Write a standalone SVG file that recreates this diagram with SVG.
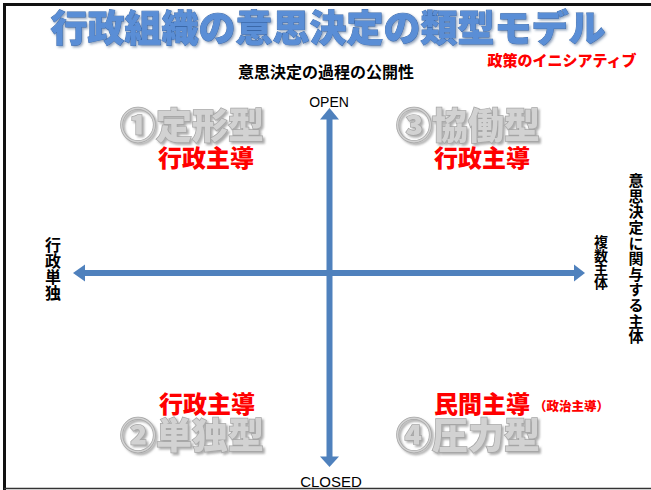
<svg xmlns="http://www.w3.org/2000/svg" width="651" height="490" viewBox="0 0 651 490">
<defs>
<style>
.jp{font-family:"Noto Sans CJK JP","Noto Sans CJK SC",sans-serif;}
.title{font-size:37px;font-weight:900;fill:#5A8ED6;stroke:#3A68A8;stroke-width:0.8;paint-order:stroke;}
.red{fill:#FF0000;font-weight:900;}
.grey{font-size:36px;font-weight:900;fill:#D2D2D2;stroke:#A5A5A5;stroke-width:1.4;paint-order:stroke;}
.blk{fill:#000;font-weight:700;}
.vert{writing-mode:vertical-rl;}
.lat{font-family:"Liberation Sans",Arial,sans-serif;fill:#000;}
.axis{stroke:#4F81BD;stroke-width:6;fill:none;}
</style>
<filter id="sh" x="-10%" y="-20%" width="130%" height="150%">
<feDropShadow dx="2" dy="2" stdDeviation="1" flood-color="#777" flood-opacity="0.6"/>
</filter>
<filter id="tsh" x="-5%" y="-20%" width="110%" height="150%">
<feDropShadow dx="1.5" dy="1.5" stdDeviation="1" flood-color="#2a4a7a" flood-opacity="0.5"/>
</filter>
</defs>
<rect width="651" height="490" fill="#fff"/>
<path d="M4.5 490 V4.5 H651" fill="none" stroke="#111" stroke-width="3"/>
<line x1="4" y1="488.5" x2="651" y2="488.5" stroke="#333" stroke-width="1.5"/>

<g id="title"><text class="jp title" x="328" y="42" text-anchor="middle" filter="url(#tsh)">行政組織の意思決定の類型モデル</text></g>
<g id="initiative"><text class="jp red" x="562" y="66" font-size="15" text-anchor="middle">政策のイニシアティブ</text></g>
<g id="axis-v-label"><text class="jp blk" x="326" y="78" font-size="16" text-anchor="middle">意思決定の過程の公開性</text></g>
<g id="axis-h-label"><text class="jp blk vert" x="636" y="173" font-size="15" letter-spacing="0.6">意思決定に関与する主体</text></g>

<g id="connectors">
<path class="axis" d="M329.5 119 V457"/>
<polygon points="329.5,108 339,119.5 320,119.5" fill="#4F81BD"/>
<polygon points="329.5,467 339,456.5 320,456.5" fill="#4F81BD"/>
<path class="axis" d="M85 273 H575"/>
<polygon points="73,273 85,264.5 85,281.5" fill="#4F81BD"/>
<polygon points="585,273 574,264.5 574,281.5" fill="#4F81BD"/>
</g>

<g id="open"><text class="lat" x="329" y="107" font-size="14" text-anchor="middle">OPEN</text></g>
<g id="closed"><text class="lat" x="331" y="487" font-size="15" text-anchor="middle">CLOSED</text></g>
<g id="left-label"><text class="jp blk vert" x="53" y="237" font-size="16">行政単独</text></g>
<g id="right-label"><text class="jp blk vert" x="601" y="235" font-size="14" letter-spacing="-0.5">複数主体</text></g>

<g id="q1">
<text class="jp grey" x="192" y="139" text-anchor="middle" filter="url(#sh)">①定形型</text>
<text class="jp red" x="206" y="167" font-size="24" text-anchor="middle">行政主導</text>
</g>
<g id="q3">
<text class="jp grey" x="468" y="139" text-anchor="middle" filter="url(#sh)">③協働型</text>
<text class="jp red" x="482" y="167" font-size="24" text-anchor="middle">行政主導</text>
</g>
<g id="q2">
<text class="jp red" x="207" y="413" font-size="24" text-anchor="middle">行政主導</text>
<text class="jp grey" x="192" y="449" text-anchor="middle" filter="url(#sh)">②単独型</text>
</g>
<g id="q4">
<text class="jp red" x="482" y="413" font-size="24" text-anchor="middle">民間主導</text>
<text class="jp red" x="534" y="411" font-size="12.5">（政治主導）</text>
<text class="jp grey" x="468" y="449" text-anchor="middle" filter="url(#sh)">④圧力型</text>
</g>
</svg>
